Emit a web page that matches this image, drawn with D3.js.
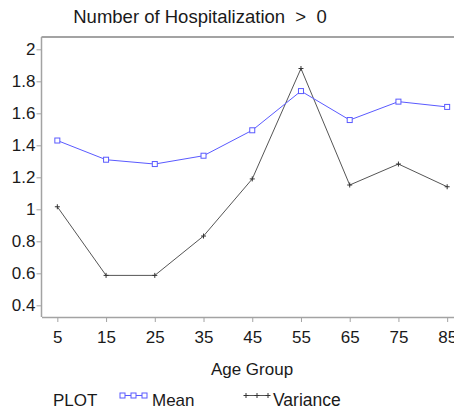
<!DOCTYPE html>
<html>
<head>
<meta charset="utf-8">
<script src="https://cdn.jsdelivr.net/npm/d3@7"></script>
<style>
  html, body { margin: 0; padding: 0; background: #fff; }
  svg { display: block; }
  text { font-family: "Liberation Sans", Arial, Helvetica, sans-serif; fill: #1a1a1a; }
</style>
</head>
<body>
<svg id="chart" width="454" height="409"></svg>
<script>
// Age groups (class midpoints) and the two summary statistics per group
const ageGroups = [5, 15, 25, 35, 45, 55, 65, 75, 85];
const meanValues = [1.43, 1.31, 1.283, 1.335, 1.494, 1.739, 1.558, 1.673, 1.64];
const varianceValues = [1.016, 0.587, 0.587, 0.833, 1.19, 1.88, 1.152, 1.283, 1.141];
const yTicks = [0.4, 0.6, 0.8, 1, 1.2, 1.4, 1.6, 1.8, 2];
const yTickLabels = ["0.4", "0.6", "0.8", "1", "1.2", "1.4", "1.6", "1.8", "2"];
const titleText = "Number of Hospitalization  >  0";
const xLabel = "Age Group";
const legendTitle = "PLOT";
const seriesNames = ["Mean", "Variance"];

const svg = d3.select("#chart");
const axisColor = "#a3a3a3";
const meanColor = "#5a5aff";
const varColor = "#555555";

const plot = { left: 41.5, right: 463, top: 37, bottom: 317 };

const x = d3.scaleLinear().domain([1.75, 88.25]).range([plot.left, plot.right]);
const y = d3.scaleLinear().domain([0.327, 2.077]).range([plot.bottom, plot.top]);

// Title
svg.append("text")
  .attr("x", 200).attr("y", 23)
  .attr("text-anchor", "middle")
  .attr("font-size", 18.5)
  .attr("xml:space", "preserve")
  .style("white-space", "pre")
  .text(titleText);

// Top frame line
svg.append("line")
  .attr("x1", plot.left).attr("x2", plot.right)
  .attr("y1", plot.top).attr("y2", plot.top)
  .attr("stroke", axisColor).attr("stroke-width", 2);

// Y axis
const yAxis = d3.axisLeft(y)
  .tickValues(yTicks)
  .tickFormat((d, i) => yTickLabels[i])
  .tickSize(5).tickPadding(1).tickSizeOuter(0);
const gy = svg.append("g").attr("transform", `translate(${plot.left},0)`).call(yAxis);
gy.select(".domain").attr("stroke", axisColor).attr("stroke-width", 1.5)
  .attr("d", `M0,${plot.top}V${plot.bottom}`);
gy.selectAll(".tick line").attr("stroke", axisColor);
gy.selectAll(".tick text").attr("font-size", 17).attr("font-family", null).style("fill", "#1a1a1a");

// X axis
const xAxis = d3.axisBottom(x)
  .tickValues(ageGroups)
  .tickFormat(d3.format("d"))
  .tickSize(5).tickPadding(9).tickSizeOuter(0);
const gx = svg.append("g").attr("transform", `translate(0,${plot.bottom})`).call(xAxis);
gx.select(".domain").attr("stroke", axisColor).attr("stroke-width", 1.5);
gx.selectAll(".tick line").attr("stroke", axisColor);
gx.selectAll(".tick text").attr("font-size", 17).attr("font-family", null).style("fill", "#1a1a1a");

// X axis label
svg.append("text")
  .attr("x", 252).attr("y", 375)
  .attr("text-anchor", "middle")
  .attr("font-size", 17)
  .text(xLabel);

const line = d3.line().x(d => x(d[0])).y(d => y(d[1]));
const meanPts = ageGroups.map((a, i) => [a, meanValues[i]]);
const varPts = ageGroups.map((a, i) => [a, varianceValues[i]]);

// Variance series
svg.append("path").datum(varPts)
  .attr("d", line).attr("fill", "none")
  .attr("stroke", varColor).attr("stroke-width", 1);
function plusMark(g, cx, cy, s, color) {
  g.append("path")
    .attr("d", `M${cx - s},${cy}H${cx + s}M${cx},${cy - s}V${cy + s}`)
    .attr("stroke", color).attr("stroke-width", 1).attr("fill", "none");
}
const varMarks = svg.append("g");
varPts.forEach(p => plusMark(varMarks, x(p[0]), y(p[1]), 2.5, "#333"));

// Mean series
svg.append("path").datum(meanPts)
  .attr("d", line).attr("fill", "none")
  .attr("stroke", meanColor).attr("stroke-width", 1);
svg.append("g").selectAll("rect").data(meanPts).join("rect")
  .attr("x", d => x(d[0]) - 2.5).attr("y", d => y(d[1]) - 2.5)
  .attr("width", 5).attr("height", 5)
  .attr("fill", "#fff").attr("stroke", meanColor).attr("stroke-width", 1);

// Legend
const legY = 395.5;
const legBase = 406;
svg.append("text").attr("x", 53).attr("y", legBase).attr("font-size", 17).text(legendTitle);

// Mean legend sample
svg.append("line").attr("x1", 120).attr("x2", 147).attr("y1", legY).attr("y2", legY)
  .attr("stroke", meanColor).attr("stroke-width", 1);
[122.5, 133.5, 144.5].forEach(cx => {
  svg.append("rect").attr("x", cx - 2.5).attr("y", legY - 2.5)
    .attr("width", 5).attr("height", 5)
    .attr("fill", "#fff").attr("stroke", meanColor).attr("stroke-width", 1);
});
svg.append("text").attr("x", 152).attr("y", legBase).attr("font-size", 17).text(seriesNames[0]);

// Variance legend sample
svg.append("line").attr("x1", 244).attr("x2", 270).attr("y1", legY).attr("y2", legY)
  .attr("stroke", varColor).attr("stroke-width", 1);
const legVar = svg.append("g");
[246, 257, 268].forEach(cx => plusMark(legVar, cx, legY, 2.5, "#333"));
svg.append("text").attr("x", 273).attr("y", legBase).attr("font-size", 17.5).text(seriesNames[1]);
</script>
</body>
</html>
